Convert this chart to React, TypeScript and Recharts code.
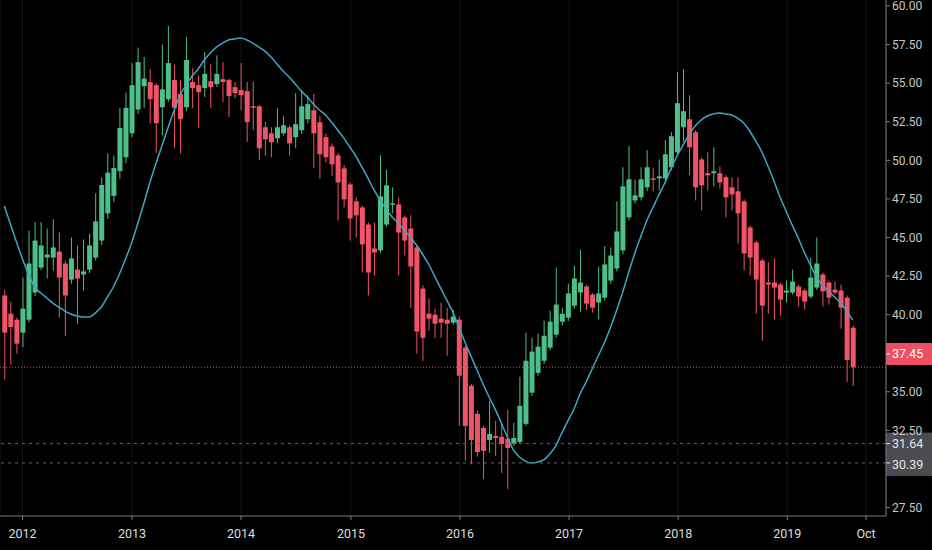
import React from 'react';
import { ComposedChart, Bar, Line, XAxis, YAxis, CartesianGrid, ReferenceLine } from 'recharts';

// candle values, one entry per candle (left to right)
const opens = [
  41.24, 40.06, 39.67, 38.83, 39.67, 41.43, 43.05, 43.7, 43.7, 44.09,
  43.31, 42.27, 42.92, 42.6, 42.92, 43.7, 44.8, 46.56, 47.7, 49.3,
  50.2, 51.75, 53.3, 54.8, 55.07, 54.87, 53.44, 53.96, 55.2, 54.3,
  53.44, 55.07, 54.87, 54.68, 55.13, 54.94, 55.26, 55.2, 54.74, 54.55,
  54.48, 53.5, 53.5, 52.14, 51.75, 51.43, 51.75, 52.14, 51.5, 51.95,
  52.66, 53.25, 52.47, 51.5, 50.9, 50.32, 49.48, 48.44, 47.34, 46.95,
  45.84, 44.29, 44.16, 45.84, 47.14, 47.14, 46.3, 45.58, 44.35, 41.69,
  40.06, 39.99, 39.74, 39.67, 39.48, 39.67, 37.86, 35.39, 33.57, 32.66,
  31.88, 32.14, 32.08, 31.95, 31.62, 31.75, 32.92, 34.94, 36.23, 37.01,
  37.86, 38.7, 39.54, 39.8, 40.58, 41.43, 41.82, 41.3, 40.78, 41.1,
  42.21, 42.99, 44.16, 46.3, 47.4, 47.6, 48.25, 48.83, 48.83, 48.83,
  49.55, 50.52, 52.14, 52.66, 51.82, 50.06, 49.16, 49.16, 49.16, 48.9,
  48.25, 47.99, 47.34, 45.65, 44.68, 43.51, 42.08, 42.08, 41.95, 41.43,
  41.43, 41.82, 41.56, 41.17, 41.75, 42.6, 42.08, 41.62, 41.56, 41.1,
  39.15,
];

const highs = [
  41.6, 40.84, 39.8, 42.4, 45.45, 46.0, 46.0, 45.58, 46.17, 45.32,
  43.5, 45.0, 44.48, 44.87, 45.26, 47.86, 48.9, 50.45, 50.3, 53.4,
  54.4, 56.3, 57.3, 56.7, 55.9, 55.0, 57.5, 58.7, 56.2, 55.2,
  58.0, 55.97, 55.5, 57.0, 56.23, 56.8, 56.36, 55.3, 55.07, 56.3,
  55.07, 55.1, 53.6, 52.5, 52.14, 53.38, 52.86, 52.27, 54.35, 54.55,
  54.2, 54.3, 52.9, 51.75, 51.1, 50.5, 49.7, 48.57, 47.6, 47.08,
  45.97, 45.97, 50.32, 49.4, 48.25, 47.6, 46.43, 46.43, 44.48, 41.9,
  41.04, 40.39, 40.78, 40.45, 40.32, 39.87, 37.99, 35.52, 33.77, 32.79,
  34.42, 33.12, 32.99, 33.83, 32.99, 35.97, 38.83, 38.5, 38.77, 39.61,
  40.26, 43.05, 40.45, 42.01, 43.18, 44.22, 41.95, 41.4, 43.12, 44.42,
  44.35, 47.34, 49.55, 50.91, 48.77, 49.55, 50.65, 49.48, 50.06, 51.3,
  51.82, 55.71, 55.9, 54.22, 51.95, 50.2, 50.52, 50.84, 49.61, 49.03,
  48.9, 48.9, 47.47, 45.78, 44.8, 43.64, 43.38, 43.64, 42.08, 42.21,
  42.92, 41.95, 41.69, 43.7, 45.0, 42.73, 42.2, 42.14, 41.95, 41.24,
  39.28,
];

const lows = [
  35.8, 36.75, 37.47, 37.9, 39.5, 41.2, 42.9, 42.34, 42.86, 39.8,
  38.6, 42.0, 39.4, 41.56, 42.7, 43.5, 44.5, 46.2, 47.3, 48.8,
  49.8, 51.5, 53.0, 53.4, 52.4, 50.5, 51.6, 53.8, 50.8, 50.45,
  53.2, 53.38, 52.1, 54.1, 53.38, 54.74, 53.77, 52.8, 54.03, 53.25,
  51.2, 51.95, 50.0, 50.3, 50.2, 51.1, 51.6, 50.3, 50.8, 51.7,
  52.4, 49.5, 48.8, 49.87, 49.0, 46.1, 46.95, 44.8, 45.0, 42.73,
  41.24, 42.53, 44.0, 45.7, 46.56, 42.53, 43.83, 40.45, 37.47, 37.0,
  38.96, 38.5, 38.5, 37.34, 39.35, 32.79, 30.52, 30.3, 30.8, 29.35,
  31.04, 30.84, 29.74, 28.7, 31.5, 31.62, 32.79, 34.74, 36.04, 36.8,
  37.7, 38.5, 39.3, 39.6, 40.4, 40.19, 40.32, 40.13, 39.67, 40.9,
  42.0, 42.8, 43.9, 46.1, 47.21, 47.4, 48.0, 47.99, 48.05, 48.5,
  49.35, 50.3, 51.2, 49.03, 47.4, 46.75, 48.05, 48.31, 48.18, 46.3,
  46.75, 44.61, 42.86, 42.53, 40.06, 38.31, 40.06, 39.67, 39.93, 40.78,
  41.3, 40.52, 40.32, 41.04, 41.6, 40.52, 40.65, 41.3, 39.09, 35.65,
  35.39,
];

const closes = [
  38.83, 39.2, 38.12, 40.39, 43.31, 44.8, 44.48, 43.9, 44.35, 42.4,
  41.24, 43.64, 42.34, 42.8, 44.48, 46.04, 48.4, 49.2, 49.5, 52.1,
  53.4, 54.87, 56.36, 55.3, 53.96, 52.4, 54.6, 56.3, 53.4, 52.66,
  56.5, 54.68, 54.42, 55.6, 54.74, 55.6, 55.07, 54.16, 54.35, 54.22,
  52.47, 53.44, 50.78, 51.36, 51.17, 52.14, 52.27, 51.1, 52.34, 53.5,
  53.64, 51.75, 50.39, 50.2, 49.74, 48.57, 47.47, 46.23, 46.43, 44.55,
  42.73, 44.03, 47.66, 48.38, 47.21, 45.32, 44.8, 43.12, 38.9, 38.5,
  39.74, 39.41, 39.48, 39.41, 39.87, 36.04, 32.79, 31.88, 31.1, 31.17,
  32.27, 32.01, 31.62, 31.36, 32.01, 34.09, 37.01, 37.6, 37.92, 38.63,
  39.54, 40.65, 40.06, 41.37, 42.34, 42.08, 40.71, 40.45, 41.37, 43.25,
  43.83, 45.39, 48.31, 48.77, 47.73, 48.77, 49.55, 48.77, 48.96, 50.39,
  51.56, 53.7, 53.18, 50.84, 48.25, 48.38, 49.03, 49.29, 48.57, 47.6,
  47.79, 46.56, 43.96, 43.7, 42.27, 40.58, 41.95, 41.75, 40.97, 41.56,
  42.14, 41.17, 40.84, 42.4, 43.31, 41.5, 41.1, 41.43, 40.45, 37.06,
  36.59,
];

// moving average as drawn (cyan curve)
const maValues = [
  47.04, 45.87, 44.71, 43.6, 42.63, 41.79, 41.4, 41.08, 40.75, 40.49,
  40.23, 40.04, 39.91, 39.85, 39.85, 40.1, 40.49, 41.14, 41.79, 42.63,
  43.6, 44.64, 45.87, 47.17, 48.53, 49.76, 50.93, 52.09, 53.2, 54.23,
  54.88, 55.46, 55.92, 56.5, 56.96, 57.34, 57.6, 57.8, 57.86, 57.93,
  57.8, 57.6, 57.34, 57.08, 56.7, 56.24, 55.79, 55.4, 54.95, 54.49,
  54.1, 53.65, 53.26, 52.94, 52.48, 51.96, 51.45, 50.86, 50.28, 49.57,
  48.85, 48.08, 47.43, 46.84, 46.33, 45.94, 45.48, 45.03, 44.51, 43.93,
  43.28, 42.5, 41.72, 40.95, 40.17, 39.2, 38.23, 37.32, 36.41, 35.5,
  34.66, 33.88, 32.98, 32.07, 31.23, 30.77, 30.51, 30.38, 30.45, 30.58,
  30.97, 31.49, 32.33, 33.11, 33.88, 34.86, 35.63, 36.48, 37.32, 38.16,
  39.13, 40.23, 41.4, 42.7, 43.93, 45.03, 46.07, 46.91, 47.75, 48.53,
  49.44, 50.28, 50.99, 51.64, 52.22, 52.61, 52.87, 53.0, 53.07, 53.0,
  52.94, 52.74, 52.42, 51.9, 51.25, 50.54, 49.63, 48.66, 47.62, 46.72,
  45.81, 44.97, 44.06, 43.22, 42.44, 41.92, 41.53, 41.14, 40.75, 40.23,
  39.65,
];

const timeTicks = [3.02, 21.07, 39.06, 57.2, 75.2, 93.2, 111.2, 129.2, 142.2];
const timeLabels = ['2012', '2013', '2014', '2015', '2016', '2017', '2018', '2019', 'Oct'];
const priceTicks = [60, 57.5, 55, 52.5, 50, 47.5, 45, 42.5, 40, 35, 32.5, 27.5];

const lastPrice = 37.45;
const lastClose = 36.59;
const levelHigh = 31.64;
const levelLow = 30.39;

const UP = '#4fbf8a';
const DOWN = '#ef5468';
const FONT = 'Roboto, "Noto Sans", sans-serif';

const rows = opens.map((o, i) => ({
  i,
  open: o,
  high: highs[i],
  low: lows[i],
  close: closes[i],
  ma: maValues[i],
}));

function Candle(props: any) {
  const { x, y, width, height, payload } = props;
  if (!payload || height == null) return null;
  const { open, close, high, low } = payload;
  const span = high - low || 1;
  const py = (p: number) => y + ((high - p) / span) * height;
  const cx = x + width / 2;
  const color = close >= open ? UP : DOWN;
  const top = py(Math.max(open, close));
  const bottom = py(Math.min(open, close));
  return (
    <g>
      <line x1={cx} x2={cx} y1={y} y2={y + height} stroke={color} strokeWidth={1} />
      <rect x={x} y={top} width={width} height={Math.max(bottom - top, 1.5)} fill={color} />
    </g>
  );
}

function PriceTag(props: any) {
  const { viewBox, text, fill, color, shift = 0 } = props;
  if (!viewBox) return null;
  const left = viewBox.x + viewBox.width;
  const cy = viewBox.y + shift;
  return (
    <g>
      <rect x={left} y={cy - 11} width={46} height={22} fill={fill} />
      <line x1={left} x2={left + 4} y1={viewBox.y} y2={viewBox.y} stroke={color} />
      <text x={left + 6} y={cy} dy="0.36em" fill={color} fontSize={12.5} fontFamily={FONT}>
        {text}
      </text>
    </g>
  );
}

export default function App() {
  return (
    <div style={{ position: 'absolute', left: 0, top: 0, width: 932, height: 550, background: '#000' }}>
      <ComposedChart width={932} height={550} data={rows} margin={{ top: 0, right: 0, bottom: 0, left: 0 }}>
        <CartesianGrid vertical horizontal={false} stroke="#141414" />
        <XAxis
          dataKey="i"
          type="number"
          domain={[-0.71, 145.49]}
          allowDataOverflow
          ticks={timeTicks}
          tickFormatter={(v: number) => timeLabels[timeTicks.indexOf(v)] ?? ''}
          height={34}
          axisLine={{ stroke: '#7a7a7a' }}
          tickLine={{ stroke: '#7a7a7a' }}
          tickSize={4}
          tickMargin={9}
          tick={{ fill: '#dedede', fontSize: 12.5, fontFamily: FONT }}
          interval={0}
        />
        <YAxis
          orientation="right"
          type="number"
          domain={[26.95, 60.389]}
          allowDataOverflow
          ticks={priceTicks}
          tickFormatter={(v: number) => v.toFixed(2)}
          width={46}
          axisLine={{ stroke: '#7a7a7a' }}
          tickLine={{ stroke: '#7a7a7a' }}
          tickSize={4}
          tickMargin={2}
          tick={{ fill: '#c8c8c8', fontSize: 12, fontFamily: FONT, textAnchor: 'start' }}
          interval={0}
        />
        <Bar
          dataKey={(d: any) => [d.low, d.high]}
          barSize={5}
          shape={<Candle />}
          isAnimationActive={false}
        />
        <Line
          dataKey="ma"
          type="monotone"
          stroke="#3ba9c4"
          strokeWidth={1.5}
          dot={false}
          activeDot={false}
          isAnimationActive={false}
        />
        <ReferenceLine y={lastClose} stroke="#e0455a" strokeDasharray="1 2" />
        <ReferenceLine y={levelHigh} stroke="#666" strokeDasharray="3 4"
          label={(p: any) => <PriceTag {...p} text="31.64" fill="#4b4c50" color="#e6e6e6" />} />
        <ReferenceLine y={levelLow} stroke="#666" strokeDasharray="3 4"
          label={(p: any) => <PriceTag {...p} text="30.39" fill="#4b4c50" color="#e6e6e6" shift={2} />} />
        <ReferenceLine y={lastPrice} stroke="none"
          label={(p: any) => <PriceTag {...p} text="37.45" fill="#ef4f63" color="#ffffff" />} />
      </ComposedChart>
    </div>
  );
}
